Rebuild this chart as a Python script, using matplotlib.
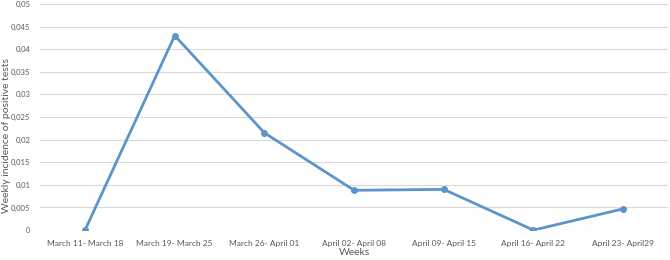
import numpy as np
from matplotlib import pyplot as plt
from matplotlib.ticker import FuncFormatter

weeks = ["March 11- March 18", "March 19- March 25", "March 26- April 01",
         "April 02- April 08", "April 09- April 15", "April 16- April 22",
         "April 23- April29"]
incidence = [0.0, 0.043, 0.0215, 0.0088, 0.009, 0.0, 0.0047]

line_color = "#5b95cb"
text_color = "#595959"
plt.rcParams['font.family'] = ['Lato', 'DejaVu Sans']

fig = plt.figure(figsize=(6.7, 2.6), dpi=100)
ax = fig.add_axes([0.06, 0.115, 0.937, 0.87])

x = np.arange(len(weeks))
ax.plot(x, incidence, color=line_color, linewidth=2, marker="o", markersize=4)

ax.set_xlim(-0.5, len(weeks) - 0.5)
ax.set_ylim(0, 0.05)
ax.set_yticks(np.arange(0, 0.0501, 0.005))
ax.yaxis.set_major_formatter(FuncFormatter(
    lambda v, _: "0" if v == 0 else ("%g" % round(v, 3)).replace(".", ",")))
ax.set_xticks(x)
ax.set_xticklabels(weeks)

ax.grid(axis="y", color="#d9d9d9", linewidth=0.8)
ax.set_axisbelow(True)
for s in ax.spines.values():
    s.set_visible(False)
ax.tick_params(axis="y", length=0, labelsize=5.5, colors=text_color, pad=7)
ax.tick_params(axis="x", length=0, labelsize=6, colors=text_color, pad=7)

ax.set_xlabel("Weeks", fontsize=7.5, color=text_color, labelpad=0.5)
ax.set_ylabel("Weekly incidence of positive tests", fontsize=7.5, color=text_color)
ax.yaxis.set_label_coords(-0.047, 0.42)

plt.savefig("out.png")
